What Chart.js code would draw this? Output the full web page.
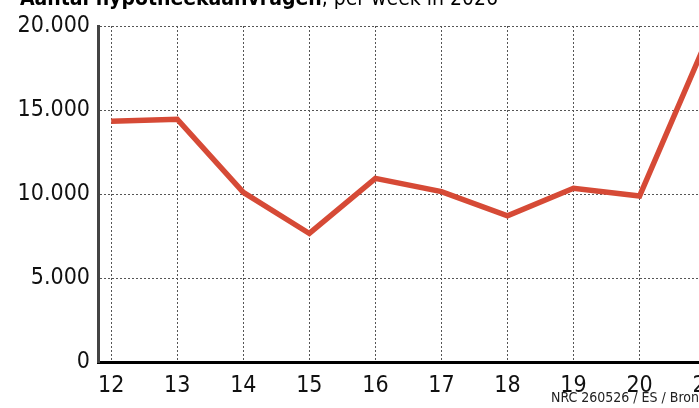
<!DOCTYPE html>
<html lang="nl">
<head>
    <meta charset="UTF-8">
    <title>Aantal hypotheekaanvragen</title>
    <script src="https://cdn.jsdelivr.net/npm/chart.js"></script>
    <style>
        html, body {
            margin: 0;
            padding: 0;
            background: #fff;
            overflow: hidden;
        }
        #wrap {
            position: relative;
            width: 699px;
            height: 408px;
        }
        #titel {
            position: absolute;
            left: 20px;
            top: -14px;
            font-family: "DejaVu Sans Condensed", "Liberation Sans", sans-serif;
            font-size: 21px;
            color: #000;
            white-space: nowrap;
        }
        #titel b { font-weight: bold; }
        #bron {
            position: absolute;
            left: 551px;
            top: 389px;
            font-family: "DejaVu Sans Condensed", "Liberation Sans", sans-serif;
            font-size: 14px;
            color: #222;
            white-space: nowrap;
        }
    </style>
</head>
<body>
<div id="wrap">
    <canvas id="grafiek" width="699" height="408"></canvas>
    <div id="titel"><b>Aantal hypotheekaanvragen</b>, per week in 2026</div>
    <div id="bron">NRC 260526 / ES / Bron: HDN</div>
</div>
<script>
    const weken = [12, 13, 14, 15, 16, 17, 18, 19, 20, 21];
    const aanvragen = [14330, 14450, 10100, 7650, 10930, 10140, 8700, 10340, 9880, 19000];
    const yTicks = [0, 5000, 10000, 15000, 20000];

    const fnt = "'DejaVu Sans Condensed', 'Liberation Sans', sans-serif";

    const ctx = document.getElementById('grafiek').getContext('2d');
    new Chart(ctx, {
        type: 'line',
        data: {
            datasets: [{
                data: weken.map((w, i) => ({ x: w, y: aanvragen[i] })),
                borderColor: '#d64a36',
                borderWidth: 5.5,
                pointRadius: 0,
                tension: 0
            }]
        },
        options: {
            responsive: false,
            animation: false,
            layout: { padding: { top: 26, right: 0, left: 0, bottom: 0 } },
            plugins: {
                legend: { display: false },
                tooltip: { enabled: false }
            },
            scales: {
                x: {
                    type: 'linear',
                    min: 11.8,
                    max: 20.9,
                    afterBuildTicks: axis => { axis.ticks = weken.map(v => ({ value: v })); },
                    afterFit: axis => {
                        axis.height = 46;
                        axis.paddingLeft = 0;
                        axis.paddingRight = 0;
                    },
                    grid: { color: '#555', lineWidth: 1, drawTicks: false },
                    border: { color: '#000', width: 3, dash: [2, 2] },
                    ticks: {
                        autoSkip: false,
                        maxRotation: 0,
                        padding: 10,
                        color: '#111',
                        font: { family: fnt, size: 23 },
                        callback: v => String(v)
                    }
                },
                y: {
                    min: 0,
                    max: 20000,
                    afterBuildTicks: axis => { axis.ticks = yTicks.map(v => ({ value: v })); },
                    afterFit: axis => {
                        axis.width = 98;
                        axis.paddingTop = 0;
                        axis.paddingBottom = 0;
                    },
                    grid: { color: '#555', lineWidth: 1, drawTicks: false },
                    border: { color: '#444', width: 3, dash: [2, 2] },
                    ticks: {
                        padding: 8,
                        color: '#111',
                        font: { family: fnt, size: 23 },
                        callback: v => v.toLocaleString('nl-NL')
                    }
                }
            }
        }
    });
</script>
</body>
</html>
